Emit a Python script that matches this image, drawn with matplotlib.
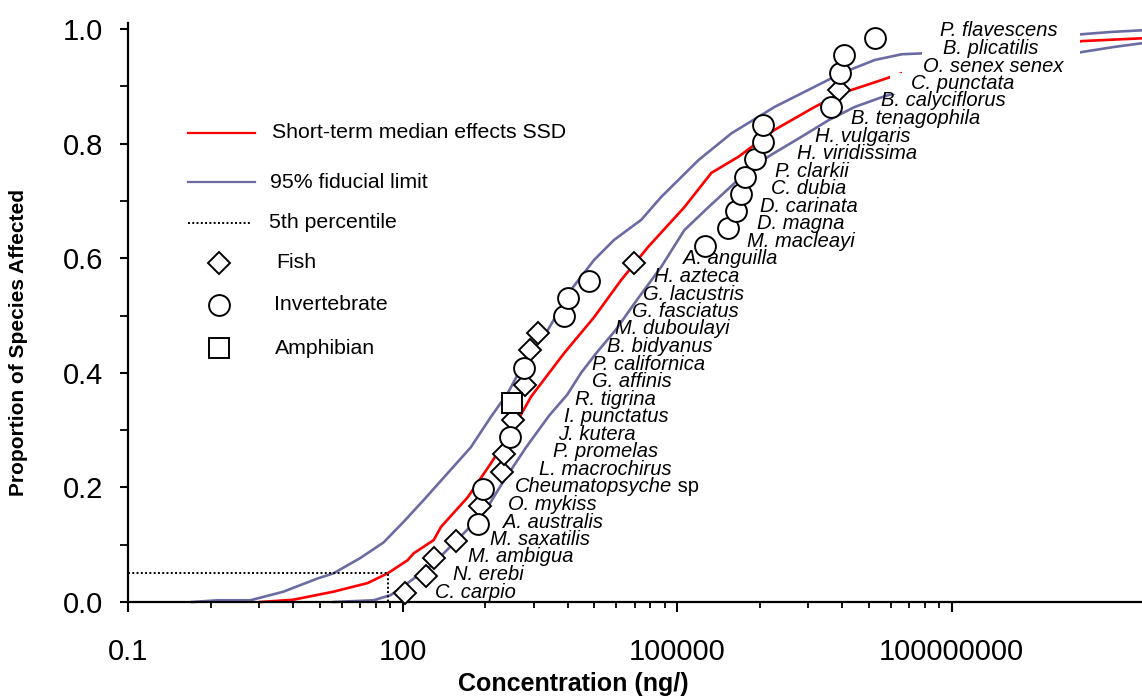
import numpy as np
import matplotlib
matplotlib.use("Agg")
import matplotlib.pyplot as plt
from matplotlib.lines import Line2D
from matplotlib.patches import Rectangle
from matplotlib.transforms import IdentityTransform
from matplotlib.ticker import FixedLocator, FixedFormatter, NullFormatter

plt.rcParams['font.family'] = ['Liberation Sans', 'DejaVu Sans']

# ---------------- data (concentrations as log10 ng/L) ----------------
median_log10 = [0.446, 0.807, 1.245, 1.618, 1.760, 1.837, 2.056, 2.122, 2.34, 2.42,
                2.713, 2.965, 3.217, 3.403, 3.764, 4.093, 4.389, 4.685, 5.079, 5.375,
                5.670, 6.065, 6.503, 6.798, 7.160, 7.456, 9.427, 10.106]
median_prop = [0.0, 0.004, 0.018, 0.033, 0.044, 0.05, 0.073, 0.085, 0.108, 0.131,
               0.183, 0.242, 0.305, 0.358, 0.434, 0.497, 0.562, 0.62, 0.689, 0.749,
               0.777, 0.824, 0.864, 0.888, 0.907, 0.923, 0.979, 0.984]

upper_log10 = [-0.299, -0.025, 0.336, 0.698, 1.070, 1.245, 1.541, 1.793, 2.012, 2.231,
               2.494, 2.746, 2.965, 3.151, 3.326, 3.589, 3.841, 4.093, 4.312, 4.608,
               4.827, 5.232, 5.594, 6.065, 6.437, 6.798, 7.160, 7.456, 7.751, 9.427,
               9.756, 10.106]
upper_prop = [0.0, 0.003, 0.003, 0.018, 0.041, 0.05, 0.077, 0.104, 0.140, 0.178,
              0.225, 0.27, 0.323, 0.365, 0.417, 0.475, 0.545, 0.597, 0.632, 0.667,
              0.707, 0.771, 0.818, 0.864, 0.894, 0.923, 0.946, 0.956, 0.958, 0.991,
              0.995, 0.998]

lower_log10 = [1.245, 1.683, 1.870, 2.056, 2.308, 2.450, 2.669, 2.90, 3.10, 3.35,
               3.60, 3.80, 3.951, 4.120, 4.330, 4.560, 4.827, 5.079, 5.342, 5.627,
               5.813, 6.065, 6.360, 6.656, 6.941, 7.237, 7.456, 9.427, 9.788, 10.117]
lower_prop = [0.0, 0.003, 0.012, 0.033, 0.063, 0.085, 0.12, 0.158, 0.21, 0.27,
              0.325, 0.362, 0.4, 0.435, 0.475, 0.527, 0.585, 0.649, 0.689, 0.731,
              0.759, 0.784, 0.812, 0.841, 0.864, 0.881, 0.892, 0.96, 0.969, 0.976]

hc5_conc = 70.0
hc5_prop = 0.05

species = ["C. carpio", "N. erebi", "M. ambigua", "M. saxatilis", "A. australis",
           "O. mykiss", "Cheumatopsyche sp", "L. macrochirus", "P. promelas", "J. kutera",
           "I. punctatus", "R. tigrina", "G. affinis", "P. californica", "B. bidyanus",
           "M. duboulayi", "G. fasciatus", "G. lacustris", "H. azteca", "A. anguilla",
           "M. macleayi", "D. magna", "D. carinata", "C. dubia", "P. clarkii",
           "H. viridissima", "H. vulgaris", "B. tenagophila", "B. calyciflorus", "C. punctata",
           "O. senex senex", "B. plicatilis", "P. flavescens"]
species_group = ["fish", "fish", "fish", "fish", "invert",
                 "fish", "invert", "fish", "fish", "invert",
                 "fish", "amphibian", "fish", "invert", "fish",
                 "fish", "invert", "invert", "invert", "fish",
                 "invert", "invert", "invert", "invert", "invert",
                 "invert", "invert", "invert", "invert", "fish",
                 "invert", "invert", "invert"]
species_log10 = [2.023, 2.253, 2.34, 2.58, 2.82,
                 2.845, 2.877, 3.085, 3.107, 3.173,
                 3.206, 3.195, 3.337, 3.326, 3.39,
                 3.48, 3.765, 3.81, 4.04, 4.53,
                 5.30, 5.56, 5.64, 5.70, 5.74,
                 5.85, 5.94, 5.94, 6.68, 6.77,
                 6.78, 6.82, 7.16]
species_prop = [0.015, 0.045, 0.076, 0.106, 0.136,
                0.167, 0.197, 0.227, 0.258, 0.288,
                0.318, 0.348, 0.379, 0.409, 0.439,
                0.470, 0.500, 0.530, 0.561, 0.591,
                0.621, 0.652, 0.682, 0.712, 0.742,
                0.773, 0.803, 0.833, 0.864, 0.894,
                0.924, 0.955, 0.985]

# label anchor (left edge, log10 concentration) - layout only
label_log10 = [2.355, 2.552, 2.716, 2.956, 3.098, 3.153, 3.230, 3.492, 3.645, 3.699,
               3.765, 3.885, 4.071, 4.071, 4.235, 4.322, 4.508, 4.628, 4.749, 5.066,
               5.765, 5.874, 5.907, 6.027, 6.071, 6.311, 6.508, 6.902, 7.230, 7.557,
               7.689, 7.907, 7.874]

x_major = [0.1, 100, 100000, 100000000]
x_major_labels = ["0.1", "100", "100000", "100000000"]
y_major = [0.0, 0.2, 0.4, 0.6, 0.8, 1.0]
y_major_labels = ["0.0", "0.2", "0.4", "0.6", "0.8", "1.0"]
y_minor = [0.1, 0.3, 0.5, 0.7, 0.9]

legend_labels = ["Short-term median effects SSD", "95% fiducial limit", "5th percentile",
                 "Fish", "Invertebrate", "Amphibian"]

# ---------------- style ----------------
RED = "#FF0000"
BLUE = "#6B6BA3"
W, H = 1142, 696

fig = plt.figure(figsize=(W / 100, H / 100), dpi=100)
ax = fig.add_axes([128 / W, 1 - 602 / H, 1 - 128 / W, (602 - 23.3) / H])
ax.set_xscale("log")
ax.set_xlim(0.1, 10 ** 10.08)
ax.set_ylim(0, 1.01)

for s in ["top", "right"]:
    ax.spines[s].set_visible(False)
for s in ["left", "bottom"]:
    ax.spines[s].set_linewidth(1.6)

lw = 1.9
ax.plot(10 ** np.array(upper_log10), upper_prop, color=BLUE, lw=lw, zorder=2, clip_on=False)
ax.plot(10 ** np.array(lower_log10), lower_prop, color=BLUE, lw=lw, zorder=2, clip_on=False)
ax.plot(10 ** np.array(median_log10), median_prop, color=RED, lw=lw, zorder=2.1, clip_on=False)
ax.plot([0.1, hc5_conc, hc5_conc], [hc5_prop, hc5_prop, 0], color="black",
        lw=1.4, ls=(0, (1, 1.2)), zorder=2.2)

marker_of = {"fish": ("D", 11.0), "invert": ("o", 15.0), "amphibian": ("s", 14.5)}
sx = 10 ** np.array(species_log10)
for grp, (mk, ms) in marker_of.items():
    idx = [i for i, g in enumerate(species_group) if g == grp]
    ax.plot(sx[idx], np.array(species_prop)[idx], ls="none", marker=mk, ms=ms,
            mfc="white", mec="black", mew=1.4, zorder=5, clip_on=False)

LABEL_FS = 14.5
label_texts = []
for i, (name, lx, yp) in enumerate(zip(species, label_log10, species_prop)):
    dy = (1.3 + i * 0.17) * 0.72
    genus = name[:-3] if name.endswith(" sp") else name
    t = ax.annotate(genus, xy=(10 ** lx, yp), xytext=(0, dy), textcoords="offset points",
                    ha="left", va="center", fontsize=LABEL_FS, fontstyle="italic",
                    zorder=4, annotation_clip=False)
    if name.endswith(" sp"):
        ax.annotate(" sp", xy=(1, 0.5), xycoords=t, ha="left", va="center",
                    fontsize=LABEL_FS, zorder=4, annotation_clip=False)
    label_texts.append(t)

# ticks
ax.xaxis.set_major_locator(FixedLocator(x_major))
ax.xaxis.set_major_formatter(FixedFormatter(x_major_labels))
minor = [m * k ** 3 for m in x_major[:-1] for k in range(2, 10)]
ax.xaxis.set_minor_locator(FixedLocator(minor))
ax.xaxis.set_minor_formatter(NullFormatter())
ax.tick_params(axis="x", which="major", length=7.2, width=1.5, pad=19, labelsize=21,
               direction="out")
ax.tick_params(axis="x", which="minor", length=4.3, width=1.3, direction="out")
ax.yaxis.set_major_locator(FixedLocator(y_major))
ax.yaxis.set_major_formatter(FixedFormatter(y_major_labels))
ax.yaxis.set_minor_locator(FixedLocator(y_minor))
ax.tick_params(axis="y", which="major", length=5.8, width=1.5, pad=12, labelsize=21)
ax.tick_params(axis="y", which="minor", length=5.8, width=1.3)

# axis titles
fig.text(573 / W, 1 - 695.5 / H, "Concentration (ng/)", ha="center", va="bottom",
         fontsize=18, fontweight="bold")
fig.text(19 / W, 1 - 342 / H, "Proportion of Species Affected", ha="center", va="center",
         rotation=90, fontsize=15, fontweight="bold")

# legend (manual, figure pixel layout)
def fx(px):
    return px / W

def fy(py):
    return 1 - py / H

leg_rows = [133, 182, 223, 263, 305, 348]
leg_text_x = [272, 270, 269, 276, 274, 275]
fig.add_artist(Line2D([fx(188), fx(255)], [fy(leg_rows[0])] * 2, color=RED, lw=1.6))
fig.add_artist(Line2D([fx(188), fx(255)], [fy(leg_rows[1])] * 2, color=BLUE, lw=1.6))
fig.add_artist(Line2D([fx(188), fx(250)], [fy(leg_rows[2])] * 2, color="black", lw=1.4,
                      ls=(0, (1, 1.2))))
for (grp, row) in zip(["fish", "invert", "amphibian"], leg_rows[3:]):
    mk, ms = marker_of[grp]
    fig.add_artist(Line2D([fx(219)], [fy(row)], ls="none", marker=mk, ms=ms,
                          mfc="white", mec="black", mew=1.4))
for lab, row, tx in zip(legend_labels, leg_rows, leg_text_x):
    fig.text(fx(tx), fy(row), lab, ha="left", va="center", fontsize=15.3)

# white backing boxes behind the top labels (they interrupt the curves there)
fig.canvas.draw()
renderer = fig.canvas.get_renderer()
right_edges = [None, 1080, 1080, 1080]
for t, rx in zip(label_texts[-4:], right_edges):
    bb = t.get_window_extent(renderer)
    cy = (bb.y0 + bb.y1) / 2
    x0 = bb.x0 - 21
    x1 = bb.x1 + 18 if rx is None else max(bb.x1 + 10, rx)
    r = Rectangle((x0, cy - 10.5), x1 - x0, 21,
                  transform=IdentityTransform(), facecolor="white",
                  edgecolor="none", zorder=3, clip_on=False)
    ax.add_artist(r)

fig.savefig("out.png", dpi=100)
